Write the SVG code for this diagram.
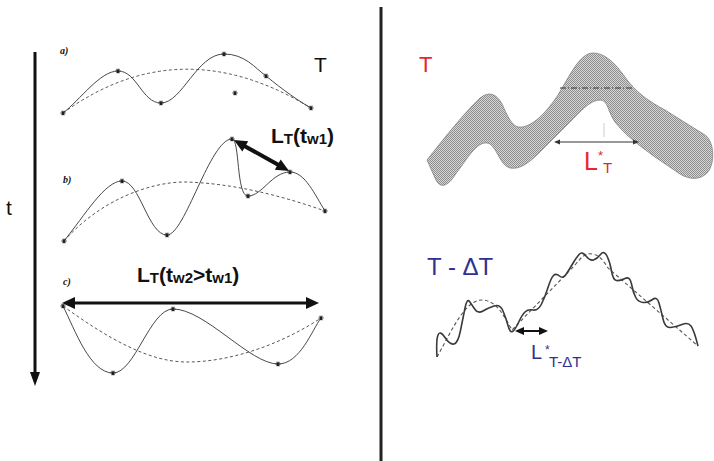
<svg xmlns="http://www.w3.org/2000/svg" xmlns:xlink="http://www.w3.org/1999/xlink" width="714" height="461" viewBox="0 0 714 461">
<style>
  text { font-family: "Liberation Sans", Arial, sans-serif; }
  .solid { fill: none; stroke: #333; stroke-width: 0.9; }
  .dash { fill: none; stroke: #444; stroke-width: 0.9; stroke-dasharray: 3 2.5; }
  .bold { font-weight: bold; font-size: 21px; fill: #111; }
  .sub { font-size: 15px; }
  .tag { font-family: "Liberation Serif", serif; font-style: italic; font-weight: bold; font-size: 10px; fill: #111; }
  .red { fill: #e8262d; }
  .blue { fill: #2e3192; }
  .wave { fill: none; stroke: #3a3a3a; stroke-width: 1.6; }
  .wdash { fill: none; stroke: #555; stroke-width: 1.1; stroke-dasharray: 3.5 2.5; }
</style>
<defs>
  <g id="st"><path d="M-2.6,0 H2.6 M-1.3,-2.3 L1.3,2.3 M1.3,-2.3 L-1.3,2.3" stroke="#222" stroke-width="1.1"/><circle r="1.1" fill="#222"/></g>
  <marker id="hBig" markerUnits="userSpaceOnUse" markerWidth="14" markerHeight="12" refX="1" refY="6" orient="auto-start-reverse" overflow="visible"><path d="M0,0 L13,6 L0,12 z" fill="#111"/></marker>
  <marker id="hMid" markerUnits="userSpaceOnUse" markerWidth="10" markerHeight="8" refX="1" refY="4" orient="auto-start-reverse" overflow="visible"><path d="M0,0 L9,4 L0,8 z" fill="#111"/></marker>
  <marker id="hSmall" markerUnits="userSpaceOnUse" markerWidth="7" markerHeight="5" refX="1" refY="2.5" orient="auto-start-reverse" overflow="visible"><path d="M0,0 L6,2.5 L0,5 z" fill="#333"/></marker>
  <pattern id="dither" width="2" height="2" patternUnits="userSpaceOnUse"><rect width="2" height="2" fill="#d6d6d6"/><rect width="1" height="1" fill="#8e8e8e"/><rect x="1" y="1" width="1" height="1" fill="#8e8e8e"/></pattern>
</defs>
<rect width="714" height="461" fill="#fff"/>

<!-- divider -->
<line x1="381" y1="7" x2="381" y2="461" stroke="#222" stroke-width="3"/>

<!-- left time axis -->
<g id="time-axis">
  <line x1="35" y1="52" x2="35" y2="374" stroke="#111" stroke-width="3"/>
  <path d="M30,372 L35,386 L40,372 Z" fill="#111"/>
  <text x="6" y="215" font-size="21" fill="#111">t</text>
</g>

<!-- panel a -->
<g id="panel-a">
  <text class="tag" x="60" y="54">a)</text>
  <path class="dash" d="M63,113 Q180,28 311,108"/>
  <path class="solid" d="M63,113 C80,100 100,71 118,71 C137,71 142,103 161,103 C182,103 197,54 224,54 C245,54 255,68 266,76 C283,90 300,102 311,108"/>
  <use xlink:href="#st" x="63" y="113"/><use xlink:href="#st" x="118" y="71"/><use xlink:href="#st" x="161" y="103"/><use xlink:href="#st" x="224" y="54"/><use xlink:href="#st" x="266" y="76"/><use xlink:href="#st" x="235" y="93"/><use xlink:href="#st" x="311" y="108"/>
  <text x="314" y="72" font-size="21" fill="#111">T</text>
</g>

<!-- panel b -->
<g id="panel-b">
  <text class="tag" x="63" y="183">b)</text>
  <path class="dash" d="M64,241 C100,200 150,182 185,182 C230,183 280,195 325,211"/>
  <path class="solid" d="M64,241 C85,215 105,181 122,181 C140,181 148,235 167,235 C185,235 210,139 232,139 C240,139 236,196 248,196 C262,196 272,172 290,172 C305,172 315,195 325,211"/>
  <use xlink:href="#st" x="64" y="241"/><use xlink:href="#st" x="122" y="181"/><use xlink:href="#st" x="167" y="235"/><use xlink:href="#st" x="232" y="139"/><use xlink:href="#st" x="248" y="196"/><use xlink:href="#st" x="290" y="172"/><use xlink:href="#st" x="325" y="211"/>
  <text class="bold" x="271" y="143">L<tspan class="sub" dy="1">T</tspan><tspan dy="-1">(t</tspan><tspan class="sub" dy="1">w1</tspan><tspan dy="-1">)</tspan></text>
</g>

<!-- panel c -->
<g id="panel-c">
  <text class="tag" x="63" y="285">c)</text>
  <path class="dash" d="M63,306 C110,340 150,362 187,362 C230,362 280,345 321,318"/>
  <path class="solid" d="M63,306 C75,330 90,373 113,373 C135,373 150,309 173,309 C205,309 250,364 278,364 C300,364 312,330 321,318"/>
  <use xlink:href="#st" x="63" y="306"/><use xlink:href="#st" x="113" y="373"/><use xlink:href="#st" x="173" y="309"/><use xlink:href="#st" x="278" y="364"/><use xlink:href="#st" x="321" y="318"/>
  <text class="bold" x="137" y="282">L<tspan class="sub" dy="1">T</tspan><tspan dy="-1">(t</tspan><tspan class="sub" dy="1">w2</tspan><tspan dy="-1">&gt;t</tspan><tspan class="sub" dy="1">w1</tspan><tspan dy="-1">)</tspan></text>
</g>

<!-- panel T (right top) -->
<g id="panel-T">
  <text class="red" x="419" y="72" font-size="22">T</text>
  <path d="M427,160 C445,137 465,112 480,98 C490,90 498,95 503,106 C510,122 514,128 522,127 C535,125 548,110 558,95 C570,75 580,53 593,53 C605,53 615,63 625,77 C635,92 650,102 665,110 L705,135 C715,142 715,165 707,173 C700,180 690,180 680,174 L655,157 C640,146 625,135 615,122 C608,112 608,100 600,100 C590,100 580,112 570,122 L540,152 C530,162 520,170 510,168 C500,165 498,150 490,144 C482,140 475,148 468,157 L455,175 C448,186 440,190 435,178 Z" fill="url(#dither)" stroke="#777" stroke-width="0.7"/>
  <line x1="560" y1="88" x2="632" y2="88" stroke="#333" stroke-width="1" stroke-dasharray="6 2 1 2"/>
  <line x1="604" y1="123" x2="604" y2="137" stroke="#ccc" stroke-width="1"/>
  <text class="red" x="584" y="170" font-size="25">L</text>
  <text class="red" x="598" y="160" font-size="13">*</text>
  <text class="red" x="603" y="173" font-size="15">T</text>
</g>

<!-- panel T - dT (right bottom) -->
<g id="panel-TdT">
  <text class="blue" x="427" y="275" font-size="24">T - ΔT</text>
  <path class="wdash" d="M437,357 C452,330 465,300 482,300 C497,300 505,318 512,330 L575,265 C582,256 586,253 592,254 C600,255 604,262 608,268 L698,346"/>
  <path class="wave" d="M437,357 Q436,340 438,335 Q440,330 445,337.5 Q450,345 454,344 Q458,343 460.5,330.5 Q463,318 465,308 Q467,298 469.5,301.5 Q472,305 475,309.5 Q478,314 483,311 Q488,308 494,306 Q500,304 503,311 Q506,318 508,325.5 Q510,333 512.5,331.5 Q515,330 518.5,322.5 Q522,315 525,312 Q528,309 533,310 Q538,311 541.5,304 Q545,297 548,287.5 Q551,278 553.5,275.5 Q556,273 559.5,276 Q563,279 566,274.5 Q569,270 572.5,264 Q576,258 579,254.5 Q582,251 586,256 Q590,261 593.5,260 Q597,259 600.5,254.5 Q604,250 607,256 Q610,262 611.5,271 Q613,280 616.5,280.5 Q620,281 625,278.5 Q630,276 631.5,284 Q633,292 635.5,297 Q638,302 643,302.5 Q648,303 652.5,299.5 Q657,296 659,303 Q661,310 663,319 Q665,328 670.5,327.5 Q676,327 682,324.5 Q688,322 691,326 Q694,330 698,346"/>
  <text class="blue" x="531" y="359" font-size="20">L</text>
  <text class="blue" x="545" y="354" font-size="12">*</text>
  <text class="blue" x="549" y="367" font-size="15">T-ΔT</text>
</g>

<!-- connectors -->
<g id="connectors">
  <line x1="244.4" y1="145.9" x2="278.6" y2="165.1" stroke="#111" stroke-width="4" marker-start="url(#hBig)" marker-end="url(#hBig)"/>
  <line x1="74" y1="303" x2="307" y2="303" stroke="#111" stroke-width="3" marker-start="url(#hBig)" marker-end="url(#hBig)"/>
  <line x1="523" y1="331" x2="540" y2="331" stroke="#111" stroke-width="2" marker-start="url(#hMid)" marker-end="url(#hMid)"/>
  <line x1="559" y1="142" x2="634" y2="142" stroke="#333" stroke-width="1.2" marker-start="url(#hSmall)" marker-end="url(#hSmall)"/>
</g>
</svg>
